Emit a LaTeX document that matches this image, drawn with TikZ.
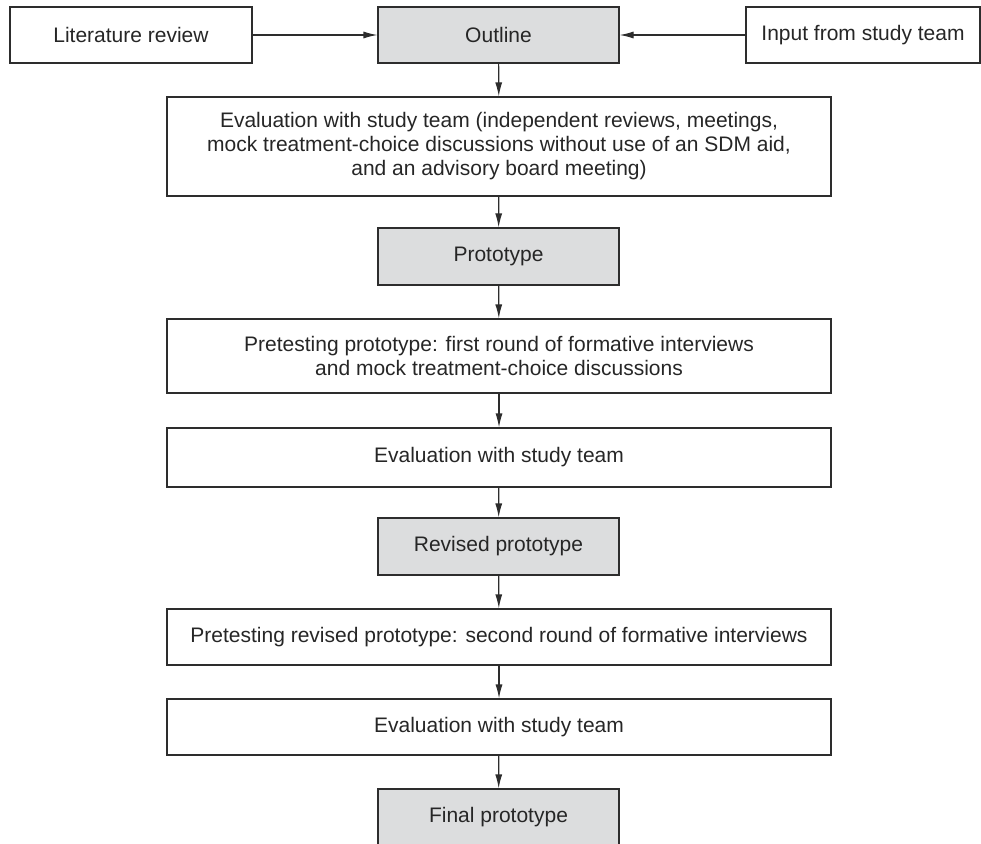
\documentclass[tikz,border=0pt]{standalone}
\usepackage{fontspec}
\setmainfont{Liberation Sans}
\usepackage{tikz}
\usetikzlibrary{arrows.meta,positioning}
\definecolor{boxgray}{RGB}{220,221,222}
\definecolor{linegray}{RGB}{45,45,45}

\begin{document}
\begin{tikzpicture}[x=1pt,y=-1pt,>={Latex[length=14pt,width=7pt]}]%
        \useasboundingbox (0,0) rectangle (981,843); %%
        \begin{scope}
            \tikzstyle{every node}=[draw=linegray,line width=1.2pt,text=black!85,inner sep=0pt,align=center,font=\fontsize{21}{24}\selectfont];%%
            \node[minimum width=242pt,minimum height=56pt] (lit) at (131,35)  {Literature review}; %%
            \node[minimum width=241pt,minimum height=56pt,fill=boxgray] (outline) at (498.5,35)  {Outline}; %%
            \node[minimum width=234pt,minimum height=56pt] (input) at (863,35)  {Input from study team}; %%
            \node[minimum width=664pt,minimum height=99pt] (eval1) at (499,146.5)  {Evaluation with study team (independent reviews, meetings,\\mock treatment-choice discussions without use of an SDM aid,\\and an advisory board meeting)}; %%
            \node[minimum width=241pt,minimum height=57pt,fill=boxgray] (proto) at (498.5,256.5)  {Prototype}; %%
            \node[minimum width=664pt,minimum height=74pt] (pretest1) at (499,356)  {Pretesting prototype: first round of formative interviews\\and mock treatment-choice discussions}; %%
            \node[minimum width=664pt,minimum height=59pt] (eval2) at (499,457.5)  {Evaluation with study team}; %%
            \node[minimum width=241pt,minimum height=57pt,fill=boxgray] (revised) at (498.5,546.5)  {Revised prototype}; %%
            \node[minimum width=664pt,minimum height=56pt] (pretest2) at (499,637)  {Pretesting revised prototype: second round of formative interviews}; %%
            \node[minimum width=664pt,minimum height=56pt] (eval3) at (499,727)  {Evaluation with study team}; %%
            \node[minimum width=241pt,minimum height=57pt,fill=boxgray] (final) at (498.5,817.5)  {Final prototype}; %%
        \end{scope}
        \begin{scope}[draw=linegray,line width=1.2pt]
        \draw[->] (lit)--(outline); %%
        \draw[->] (input)--(outline); %%
        \draw[->] (outline)--(eval1); %%
        \draw[->] (eval1)--(proto); %%
        \draw[->] (proto)--(pretest1); %%
        \draw[->] (pretest1)--(eval2); %%
        \draw[->] (eval2)--(revised); %%
        \draw[->] (revised)--(pretest2); %%
        \draw[->] (pretest2)--(eval3); %%
        \draw[->] (eval3)--(final); %%
        \end{scope}
        \end{tikzpicture}
\end{document}
